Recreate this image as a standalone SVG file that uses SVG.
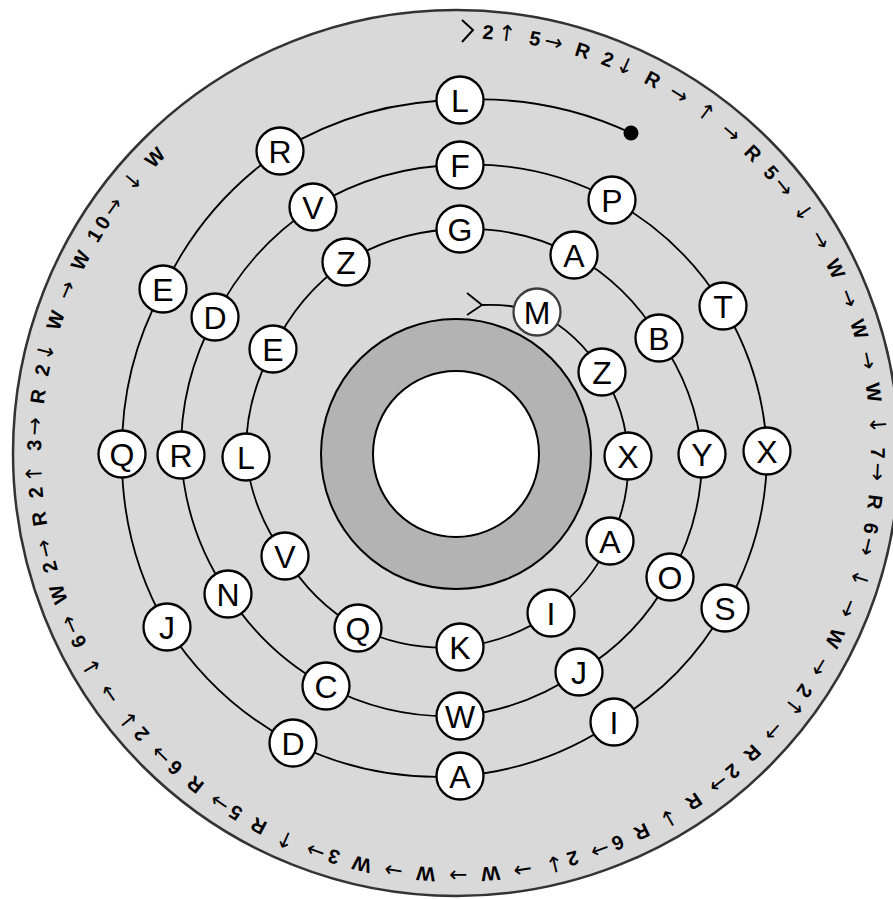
<svg xmlns="http://www.w3.org/2000/svg" width="893" height="899" viewBox="0 0 893 899">
<style>
.node circle{fill:#fff;stroke:#000;stroke-width:2.3}
.node text{font-family:"Liberation Sans",Arial,sans-serif;font-size:32px;text-anchor:middle;fill:#000}
#connectors path{fill:none;stroke:#000;stroke-width:1.8}
.ring{font-family:"Liberation Sans",Arial,sans-serif;font-size:20px;font-weight:bold;fill:#000;letter-spacing:3.85px}
.ring .a{font-family:"DejaVu Sans",sans-serif;font-size:22px;font-weight:normal}
.chev{fill:none;stroke:#000;stroke-width:2;stroke-linejoin:miter}
</style>
<defs>
<path id="tp" d="M 456 38 A 415 415 0 0 1 456 868 A 415 415 0 0 1 456 38"/>
</defs>
<g id="disc">
<circle cx="456" cy="453" r="443" fill="#d9d9d9" stroke="#333" stroke-width="2.5"/>
<circle cx="456" cy="454" r="135" fill="#b3b3b3" stroke="#000" stroke-width="2"/>
<circle cx="456" cy="454" r="83" fill="#fff" stroke="#000" stroke-width="2"/>
</g>
<g id="ring-text">
<path class="chev" d="M 462 20 L 473 30 L 462 42"/>
<text class="ring"><textPath href="#tp" startOffset="26">2<tspan class="a">↑</tspan> 5<tspan class="a">→</tspan> R 2<tspan class="a">↓</tspan> R <tspan class="a">→</tspan> <tspan class="a">↑</tspan> <tspan class="a">→</tspan> R 5<tspan class="a">→</tspan> <tspan class="a">↓</tspan> <tspan class="a">→</tspan> W <tspan class="a">→</tspan> W <tspan class="a">→</tspan> W <tspan class="a">↓</tspan> 7<tspan class="a">→</tspan> R 6<tspan class="a">→</tspan> <tspan class="a">↓</tspan> <tspan class="a">→</tspan> W <tspan class="a">→</tspan> 2<tspan class="a">↑</tspan> <tspan class="a">→</tspan> R 2<tspan class="a">→</tspan> R <tspan class="a">↓</tspan> R 6<tspan class="a">→</tspan> 2<tspan class="a">↓</tspan> <tspan class="a">→</tspan> W <tspan class="a">→</tspan> W <tspan class="a">→</tspan> W 3<tspan class="a">→</tspan> <tspan class="a">↑</tspan> R 5<tspan class="a">→</tspan> R 6<tspan class="a">→</tspan> 2<tspan class="a">↓</tspan> <tspan class="a">→</tspan> <tspan class="a">↓</tspan> 6<tspan class="a">→</tspan> W 2<tspan class="a">→</tspan> R 2<tspan class="a">↑</tspan> 3<tspan class="a">→</tspan> R 2<tspan class="a">↓</tspan> W <tspan class="a">→</tspan> W 10<tspan class="a">→</tspan> <tspan class="a">↓</tspan> W</textPath></text>
</g>
<g id="connectors">
<path d="M 631 133 A 358 358 0 0 0 460 100"/>
<path d="M 460 100 A 352 352 0 0 0 280 151"/>
<path d="M 280 151 A 344 344 0 0 0 163 289"/>
<path d="M 163 289 A 337 337 0 0 0 122 454"/>
<path d="M 122 454 A 337 337 0 0 0 167 627"/>
<path d="M 167 627 A 336 336 0 0 0 293 743"/>
<path d="M 293 743 A 328 328 0 0 0 460 776"/>
<path d="M 460 776 A 317 317 0 0 0 614 722"/>
<path d="M 614 722 A 310 310 0 0 0 725 608"/>
<path d="M 725 608 A 309 309 0 0 0 767 451"/>
<path d="M 767 451 A 306 306 0 0 0 723 306"/>
<path d="M 723 306 A 300 300 0 0 0 612 200"/>
<path d="M 612 200 A 292 292 0 0 0 460 165"/>
<path d="M 460 165 A 287 287 0 0 0 313 207"/>
<path d="M 313 207 A 282 282 0 0 0 215 317"/>
<path d="M 215 317 A 278 278 0 0 0 181 455"/>
<path d="M 181 455 A 273 273 0 0 0 228 594"/>
<path d="M 228 594 A 269 269 0 0 0 326 686"/>
<path d="M 326 686 A 265 265 0 0 0 460 716"/>
<path d="M 460 716 A 257 257 0 0 0 579 672"/>
<path d="M 579 672 A 248 248 0 0 0 670 577"/>
<path d="M 670 577 A 245 245 0 0 0 702 454"/>
<path d="M 702 454 A 238 238 0 0 0 659 338"/>
<path d="M 659 338 A 231 231 0 0 0 574 255"/>
<path d="M 574 255 A 227 227 0 0 0 460 229"/>
<path d="M 460 229 A 223 223 0 0 0 346 262"/>
<path d="M 346 262 A 217 217 0 0 0 273 349"/>
<path d="M 273 349 A 212 212 0 0 0 246 457"/>
<path d="M 246 457 A 207 207 0 0 0 285 556"/>
<path d="M 285 556 A 201 201 0 0 0 358 628"/>
<path d="M 358 628 A 198 198 0 0 0 460 647"/>
<path d="M 460 647 A 190 190 0 0 0 551 613"/>
<path d="M 551 613 A 180 180 0 0 0 610 541"/>
<path d="M 610 541 A 173 173 0 0 0 628 456"/>
<path d="M 628 456 A 168 168 0 0 0 602 372"/>
<path d="M 602 372 A 163 163 0 0 0 537 312"/>
<path d="M 537 312 A 155 155 0 0 0 482 305"/>
<path class="chev" d="M 467 293 L 482 305 L 467 315"/>
<circle cx="631" cy="133" r="7.5" fill="#000"/>
</g>
<g id="n1" class="node"><circle cx="460" cy="100" r="23.5"/><text x="460" y="112">L</text></g>
<g id="n2" class="node"><circle cx="280" cy="151" r="23.5"/><text x="280" y="163">R</text></g>
<g id="n3" class="node"><circle cx="163" cy="289" r="23.5"/><text x="163" y="301">E</text></g>
<g id="n4" class="node"><circle cx="122" cy="454" r="23.5"/><text x="122" y="466">Q</text></g>
<g id="n5" class="node"><circle cx="167" cy="627" r="23.5"/><text x="167" y="639">J</text></g>
<g id="n6" class="node"><circle cx="293" cy="743" r="23.5"/><text x="293" y="755">D</text></g>
<g id="n7" class="node"><circle cx="460" cy="776" r="23.5"/><text x="460" y="788">A</text></g>
<g id="n8" class="node"><circle cx="614" cy="722" r="23.5"/><text x="614" y="734">I</text></g>
<g id="n9" class="node"><circle cx="725" cy="608" r="23.5"/><text x="725" y="620">S</text></g>
<g id="n10" class="node"><circle cx="767" cy="451" r="23.5"/><text x="767" y="463">X</text></g>
<g id="n11" class="node"><circle cx="723" cy="306" r="23.5"/><text x="723" y="318">T</text></g>
<g id="n12" class="node"><circle cx="612" cy="200" r="23.5"/><text x="612" y="212">P</text></g>
<g id="n13" class="node"><circle cx="460" cy="165" r="23.5"/><text x="460" y="177">F</text></g>
<g id="n14" class="node"><circle cx="313" cy="207" r="23.5"/><text x="313" y="219">V</text></g>
<g id="n15" class="node"><circle cx="215" cy="317" r="23.5"/><text x="215" y="329">D</text></g>
<g id="n16" class="node"><circle cx="181" cy="455" r="23.5"/><text x="181" y="467">R</text></g>
<g id="n17" class="node"><circle cx="228" cy="594" r="23.5"/><text x="228" y="606">N</text></g>
<g id="n18" class="node"><circle cx="326" cy="686" r="23.5"/><text x="326" y="698">C</text></g>
<g id="n19" class="node"><circle cx="460" cy="716" r="23.5"/><text x="460" y="728">W</text></g>
<g id="n20" class="node"><circle cx="579" cy="672" r="23.5"/><text x="579" y="684">J</text></g>
<g id="n21" class="node"><circle cx="670" cy="577" r="23.5"/><text x="670" y="589">O</text></g>
<g id="n22" class="node"><circle cx="702" cy="454" r="23.5"/><text x="702" y="466">Y</text></g>
<g id="n23" class="node"><circle cx="659" cy="338" r="23.5"/><text x="659" y="350">B</text></g>
<g id="n24" class="node"><circle cx="574" cy="255" r="23.5"/><text x="574" y="267">A</text></g>
<g id="n25" class="node"><circle cx="460" cy="229" r="23.5"/><text x="460" y="241">G</text></g>
<g id="n26" class="node"><circle cx="346" cy="262" r="23.5"/><text x="346" y="274">Z</text></g>
<g id="n27" class="node"><circle cx="273" cy="349" r="23.5"/><text x="273" y="361">E</text></g>
<g id="n28" class="node"><circle cx="246" cy="457" r="23.5"/><text x="246" y="469">L</text></g>
<g id="n29" class="node"><circle cx="285" cy="556" r="23.5"/><text x="285" y="568">V</text></g>
<g id="n30" class="node"><circle cx="358" cy="628" r="23.5"/><text x="358" y="640">Q</text></g>
<g id="n31" class="node"><circle cx="460" cy="647" r="23.5"/><text x="460" y="659">K</text></g>
<g id="n32" class="node"><circle cx="551" cy="613" r="23.5"/><text x="551" y="625">I</text></g>
<g id="n33" class="node"><circle cx="610" cy="541" r="23.5"/><text x="610" y="553">A</text></g>
<g id="n34" class="node"><circle cx="628" cy="456" r="23.5"/><text x="628" y="468">X</text></g>
<g id="n35" class="node"><circle cx="602" cy="372" r="23.5"/><text x="602" y="384">Z</text></g>
<g id="n36" class="node"><circle cx="537" cy="312" r="23.5" style="stroke:#3c3c3c"/><text x="537" y="324">M</text></g>
</svg>
